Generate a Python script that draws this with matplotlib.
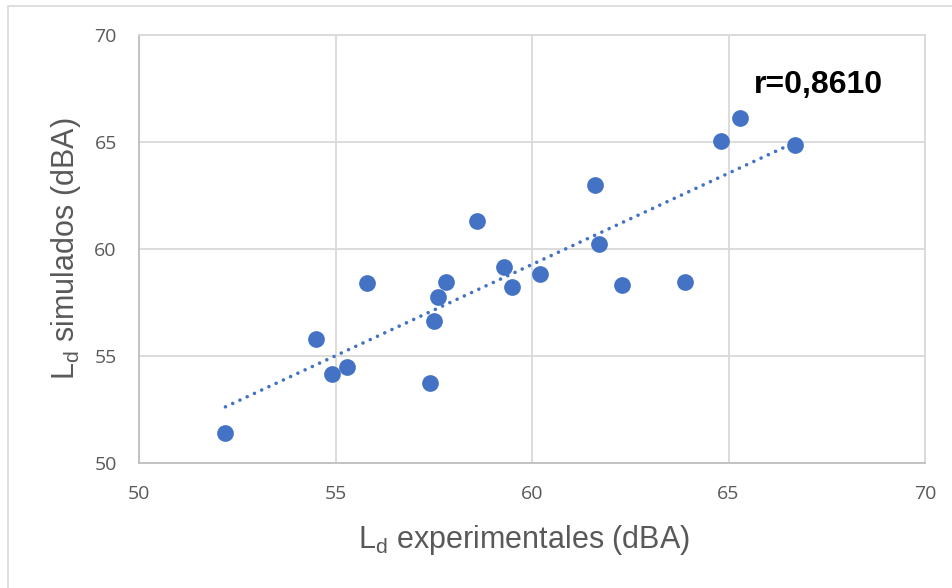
import numpy as np
import matplotlib.pyplot as plt
from matplotlib.patches import Rectangle

# Ld experimental vs simulated (dBA)
ld_exp = [52.2, 54.5, 54.9, 55.3, 55.8, 57.4, 57.5, 57.6, 57.8, 58.6,
          59.3, 59.5, 60.2, 61.6, 61.7, 62.3, 63.9, 64.8, 65.3, 66.7]
ld_sim = [51.4, 55.8, 54.15, 54.45, 58.4, 53.7, 56.6, 57.75, 58.45, 61.3,
          59.15, 58.2, 58.8, 63.0, 60.2, 58.3, 58.45, 65.05, 66.1, 64.85]
r_label = 'r=0,8610'
ticks = [50, 55, 60, 65, 70]

blue = '#4472C4'
grey = '#595959'

fig = plt.figure(figsize=(9.53, 5.88), dpi=100)
ax = fig.add_axes([139/953, 1 - 462.5/588, (925-139)/953, (462.5-35)/588])

# outer chart border (runs off the right and bottom edges)
fig.patches.append(Rectangle((8/953, -0.05), 1.0, 1 - 6/588 + 0.05,
                             transform=fig.transFigure, fill=False,
                             edgecolor='#d9d9d9', linewidth=1.2))

ax.scatter(ld_exp, ld_sim, s=145, color=blue, zorder=3, linewidths=0)

# linear trendline
m, b = np.polyfit(ld_exp, ld_sim, 1)
xs = np.array([min(ld_exp), max(ld_exp)])
ax.plot(xs, m*xs + b, color=blue, linestyle=(0, (0.01, 2.2)), linewidth=2.6,
        dash_capstyle='round', zorder=2)

ax.set_xlim(50, 70)
ax.set_ylim(50, 70)
ax.set_xticks(ticks)
ax.set_yticks(ticks)
ax.grid(True, color='#d9d9d9', linewidth=1.3)
ax.set_axisbelow(True)
for side in ax.spines:
    ax.spines[side].set_color('#d9d9d9')
    ax.spines[side].set_linewidth(1.3)
ax.spines['bottom'].set_color('#bfbfbf')
ax.spines['left'].set_color('#bfbfbf')
ax.tick_params(length=0, labelsize=14, labelcolor=grey)
ax.tick_params(axis='x', pad=16)
ax.tick_params(axis='y', pad=16)
for lab in ax.get_xticklabels() + ax.get_yticklabels():
    lab.set_family('Open Sans')

ax.set_xlabel('L$_\\mathregular{d}$ experimentales (dBA)', fontsize=22,
              color=grey, family='Liberation Sans')
ax.set_ylabel('L$_\\mathregular{d}$ simulados (dBA)', fontsize=22,
              color=grey, family='Liberation Sans')
ax.xaxis.set_label_coords(0.49, -(540 - 462.5) / 427.5, transform=ax.transAxes)
ax.yaxis.set_label_coords(-(139 - 66) / 786, 0.5, transform=ax.transAxes)
ax.xaxis.label.set_va('center')
ax.yaxis.label.set_va('center')

ax.text(67.28, 67.65, r_label, fontsize=23, fontweight='bold',
        family=['Liberation Sans Narrow', 'Liberation Sans'], color='black',
        ha='center', va='center')

fig.savefig('out.png', dpi=100)
